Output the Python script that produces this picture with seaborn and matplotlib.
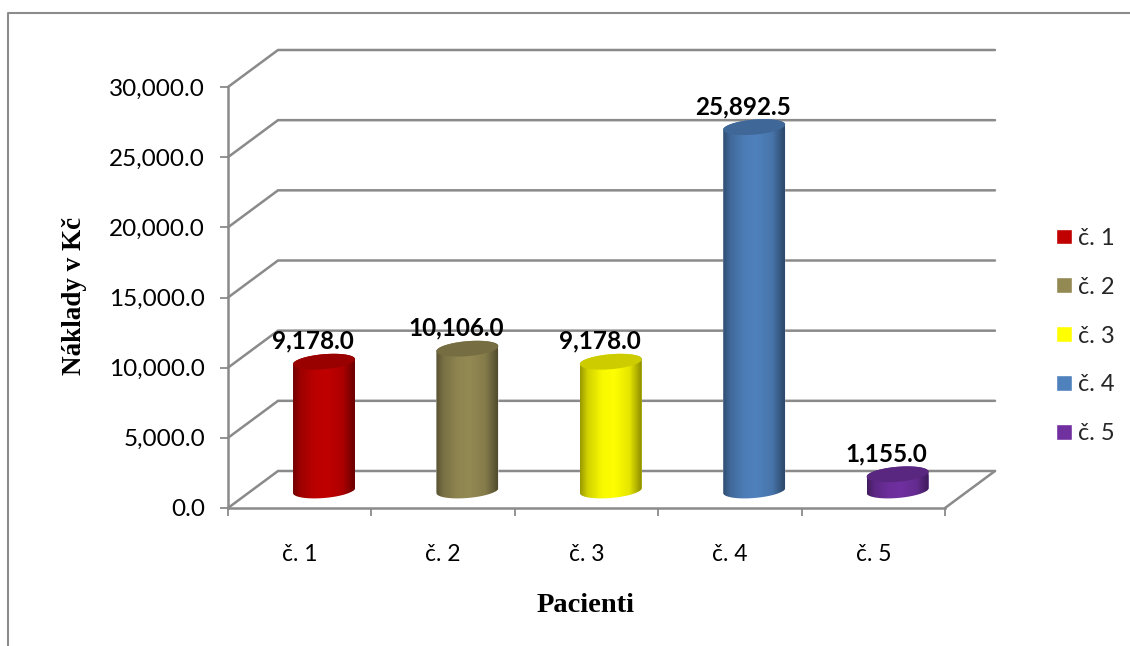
import numpy as np
import pandas as pd
import matplotlib
matplotlib.use("Agg")
import matplotlib.pyplot as plt
from matplotlib.colors import to_rgb
from matplotlib.lines import Line2D
from matplotlib.patches import PathPatch
from matplotlib.path import Path
from matplotlib.ticker import StrMethodFormatter
from matplotlib.transforms import Affine2D
import seaborn as sns

# Treatment costs per patient
patients = ["č. 1", "č. 2", "č. 3", "č. 4", "č. 5"]
costs = [9178.0, 10106.0, 9178.0, 25892.5, 1155.0]
y_ticks = [0, 5000, 10000, 15000, 20000, 25000, 30000]
body_colors = ["#C00000", "#938953", "#FFFF00", "#4F81BD", "#7030A0"]
cap_colors = ["#990000", "#766E42", "#CCCC00", "#3F6797", "#592680"]

W, H = 1130, 646
GRID = "#8A8A8A"
SANS = "Lato"
SERIF = "Liberation Serif"

sns.set_theme(style="white")
plt.rcParams["font.family"] = [SANS, "DejaVu Sans"]

fig = plt.figure(figsize=(W / 100, H / 100), dpi=100, facecolor="white")
left, right, y_base, y_top = 228, 945, 508, 87
ax = fig.add_axes([left / W, 1 - y_base / H, (right - left) / W, (y_base - y_top) / H])
ax.patch.set_visible(False)

table = pd.DataFrame({"patient": patients, "cost": costs})
sns.barplot(data=table, x="patient", y="cost", hue="patient", palette=body_colors,
            hue_order=patients, order=patients, width=0.432, dodge=False,
            saturation=1, legend=True, ax=ax, zorder=3)
ax.set_xlim(-0.5, 4.5)
ax.set_ylim(0, 30000)

px_x = (right - left) / 5      # pixels per category
px_y = (y_base - y_top) / 30000  # pixels per currency unit

# Receding walls and floor of the box
depth_x, depth_y = 50 / px_x, 37 / px_y
for v in y_ticks:
    ax.plot([-0.5, -0.5 + depth_x, 4.5 + depth_x], [v, v + depth_y, v + depth_y],
            color=GRID, lw=1.8, clip_on=False, zorder=1, solid_joinstyle="miter")
ax.plot([4.5, 4.5 + depth_x], [0, depth_y], color=GRID, lw=1.8, clip_on=False, zorder=1)

# Cylinders stand in the middle of the box depth
shift = Affine2D().translate(24.3, 17.5)
to_screen = ax.transData + shift
minor_px, tilt_px = 7.5, 5.0
stops = [0, 0.12, 0.35, 0.55, 0.8, 1]
shades = [0.6, 0.82, 0.97, 1.0, 0.9, 0.55]
bars = [c[0] for c in ax.containers]


def rim(xc, half, level, start, stop):
    t = np.linspace(start, stop, 80)
    xs = xc + half * np.cos(t)
    ys = level + minor_px / px_y * np.sin(t) + (tilt_px / px_y) * np.cos(t) / 2
    return np.column_stack([xs, ys])


for bar, value, body, cap in zip(bars, costs, body_colors, cap_colors):
    half = bar.get_width() / 2
    xc = bar.get_x() + half
    outline = np.vstack([rim(xc, half, 0, np.pi, 2 * np.pi), rim(xc, half, value, 0, np.pi)])
    body_path = Path(np.vstack([outline, outline[:1]]), closed=True)
    clip = PathPatch(body_path, transform=to_screen)
    bar.set_transform(to_screen)
    bar.set_clip_path(clip)

    ramp = np.interp(np.linspace(0, 1, 200), stops, shades)
    shading = np.outer(ramp, to_rgb(body))[None, :, :]
    reach = 2 * minor_px / px_y
    img = ax.imshow(shading, extent=(xc - half, xc + half, -reach, value + reach),
                    aspect="auto", origin="lower", zorder=3.1, interpolation="bilinear")
    img.set_transform(to_screen)
    img.set_clip_path(clip)

    cap_path = Path(rim(xc, half, value, 0, 2 * np.pi), closed=True)
    ax.add_patch(PathPatch(cap_path, facecolor=cap, edgecolor="none",
                           transform=to_screen, zorder=3.2))

    label_shift = Affine2D().translate(24.3 - 11, 17.5 + 20.5)
    ax.text(xc, value, f"{value:,.1f}", transform=ax.transData + label_shift,
            ha="center", va="center", fontsize=17.5, fontweight="bold",
            color="black", zorder=5)

ax.set_xlim(-0.5, 4.5)
ax.set_ylim(0, 30000)

# Axes
for side in ("top", "right"):
    ax.spines[side].set_visible(False)
for side in ("left", "bottom"):
    ax.spines[side].set_color(GRID)
    ax.spines[side].set_linewidth(1.8)
    ax.spines[side].set_zorder(2)

ax.set_yticks(y_ticks)
ax.yaxis.set_major_formatter(StrMethodFormatter("{x:,.1f}"))
ax.tick_params(axis="y", which="major", left=True, length=5.5, width=1.3, color=GRID,
               labelsize=17.5, pad=11, labelcolor="black")
ax.set_xticks(range(len(patients)), patients)
ax.set_xticks(np.arange(-0.5, 5), minor=True)
ax.tick_params(axis="x", which="major", bottom=False, labelsize=16.5, pad=20, labelcolor="black")
ax.tick_params(axis="x", which="minor", bottom=True, length=5.5, width=1.3, color=GRID)

ax.set_xlabel("Pacienti", family=SERIF, fontweight="bold", fontsize=20.5, color="black")
ax.xaxis.set_label_coords((586 - left) / (right - left), -(605 - y_base) / (y_base - y_top))
ax.xaxis.label.set_verticalalignment("center")
ax.set_ylabel("Náklady v Kč", family=SERIF, fontweight="bold", fontsize=19.5, color="black")
ax.yaxis.set_label_coords((75 - left) / (right - left), (y_base - 296) / (y_base - y_top))
ax.yaxis.label.set_verticalalignment("center")

# Legend column on the right
sns.move_legend(ax, "center left", bbox_to_anchor=(1056 / W, 1 - 336 / H),
                bbox_transform=fig.transFigure, frameon=False, title=None, fontsize=17,
                handlelength=0.66, handleheight=0.66, handletextpad=0.28,
                labelspacing=1.18, borderpad=0, borderaxespad=0)

# Outer chart frame
frame_x = [8 / W, 8 / W, 1]
frame_y = [0, 1 - 13 / H, 1 - 13 / H]
fig.add_artist(Line2D(frame_x, frame_y, color="#8C8C8C", lw=1.5))

fig.savefig("out.png", dpi=100, facecolor="white")
